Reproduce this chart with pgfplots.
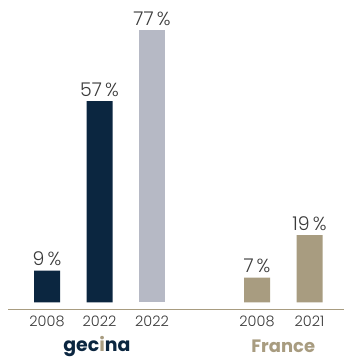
\documentclass[border=0pt]{standalone}
\usepackage{pgfplots}
\pgfplotsset{compat=1.18}
\usepackage{fontspec}
\setmainfont{Poppins}
\newfontfamily\lightfont{Poppins Light}
\definecolor{navy}{HTML}{0B2640}
\definecolor{lgray}{HTML}{B6B9C5}
\definecolor{beige}{HTML}{A89C80}
\definecolor{txt}{HTML}{3A3A3A}
\begin{document}
\begin{tikzpicture}
\begin{axis}[
  at={(47bp,55.7bp)}, anchor=origin,
  x=52.5bp, y=3.53bp,
  xmin=-0.74, xmax=5.66, ymin=-2.04, ymax=80,
  axis x line*=bottom, hide y axis,
  x axis line style={beige, line width=1.2bp, -},
  xtick={0,1,2,4,5},
  xticklabels={2008,2022,2022,2008,2021},
  major tick length=0pt,
  xticklabel style={font=\lightfont\fontsize{14.5}{15}\selectfont, text=txt, yshift=-3bp},
  ybar, bar width=26bp,
  /pgf/number format/assume math mode=true,
  nodes near coords={\pgfmathprintnumber{\pgfplotspointmeta}\,\%},
  every node near coord/.append style={font=\lightfont\fontsize{19}{20}\selectfont, text=txt, yshift=1bp},
  clip=false,
]
\addplot[fill=navy, draw=none, bar shift=0pt] coordinates {(0,9) (1,57)};
\addplot[fill=lgray, draw=none, bar shift=0pt] coordinates {(2,77)};
\addplot[fill=beige, draw=none, bar shift=0pt] coordinates {(4,7) (5,19)};
\node[font=\bfseries\fontsize{19}{20}\selectfont, text=navy, anchor=base, inner sep=0pt] at (axis cs:0.95,-13.8) {gec\textcolor{beige}{i}na};
\node[font=\bfseries\fontsize{18}{20}\selectfont, text=beige, anchor=base, inner sep=0pt] at (axis cs:4.5,-14.2) {France};
\end{axis}
\pgfresetboundingbox
\useasboundingbox (0,0) rectangle (344bp,358bp);
\end{tikzpicture}
\end{document}
